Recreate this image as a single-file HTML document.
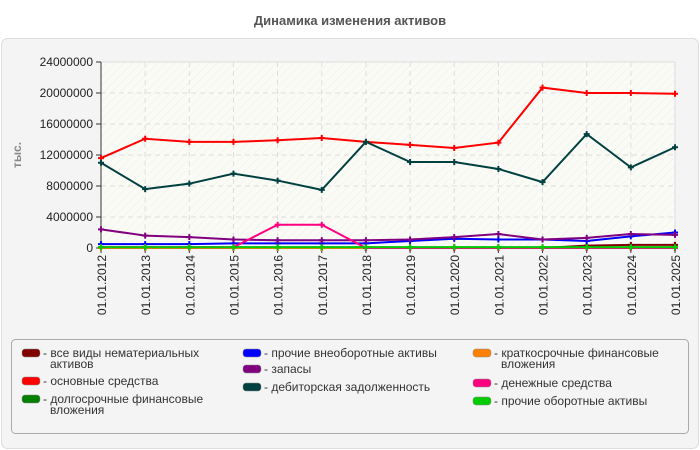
<!DOCTYPE html>
<html><head><meta charset="utf-8"><style>
body{margin:0;background:#fff;font-family:"Liberation Sans",sans-serif}
svg{display:block}
</style></head><body>
<svg id="c" width="700" height="450" xmlns="http://www.w3.org/2000/svg">
<defs><pattern id="h" width="6" height="6" patternUnits="userSpaceOnUse" patternTransform="rotate(45)"><rect width="6" height="6" fill="#fbfbf6"/><line x1="0" y1="0" x2="0" y2="6" stroke="#ececec" stroke-width="1"/></pattern></defs>
<rect x="0" y="0" width="700" height="450" fill="#fff"/>
<rect x="1.5" y="38.5" width="697" height="410" rx="6" fill="#f4f4f4" stroke="#ddd"/>
<text x="350" y="25" text-anchor="middle" font-size="13" font-weight="bold" fill="#555">Динамика изменения активов</text>
<text transform="translate(21,155) rotate(-90)" text-anchor="middle" font-size="12" font-weight="bold" fill="#888">тыс.</text>
<g id="plot"></g>
<rect x="11.5" y="339.5" width="677" height="94" rx="4" fill="#f4f4f4" stroke="#aaa"/>
<g id="leg" font-size="12" fill="#333"></g>
</svg>
<script>
const categories=["01.01.2012","01.01.2013","01.01.2014","01.01.2015","01.01.2016","01.01.2017","01.01.2018","01.01.2019","01.01.2020","01.01.2021","01.01.2022","01.01.2023","01.01.2024","01.01.2025"];
const yTicks=[0,4000000,8000000,12000000,16000000,20000000,24000000];
const sNames=["все виды нематериальных активов","основные средства","долгосрочные финансовые вложения","прочие внеоборотные активы","запасы","дебиторская задолженность","краткосрочные финансовые вложения","денежные средства","прочие оборотные активы"];
const sColors=["#800000","#ff0000","#008000","#0000ff","#800080","#004040","#ff8000","#ff0080","#00cc00"];
const vIntangible=[0,0,0,0,0,0,0,0,0,0,0,300000,400000,400000];
const vFixed=[11600000,14100000,13700000,13700000,13900000,14200000,13700000,13300000,12900000,13600000,20700000,20000000,20000000,19900000];
const vLongFin=[100000,100000,100000,100000,100000,100000,100000,100000,100000,100000,100000,100000,100000,100000];
const vOtherNon=[500000,500000,500000,600000,600000,600000,600000,900000,1200000,1100000,1100000,900000,1500000,2000000];
const vStock=[2400000,1600000,1400000,1100000,1000000,1000000,1000000,1100000,1400000,1800000,1100000,1300000,1800000,1700000];
const vRecv=[11000000,7600000,8300000,9600000,8700000,7500000,13700000,11100000,11100000,10200000,8500000,14700000,10400000,13000000];
const vShortFin=[0,0,0,0,0,0,0,0,0,0,0,0,50000,50000];
const vCash=[100000,100000,100000,100000,3000000,3000000,0,0,0,0,0,0,0,0];
const vOtherCur=[100000,100000,100000,100000,100000,100000,100000,100000,100000,100000,100000,100000,100000,100000];
const series=[vIntangible,vFixed,vLongFin,vOtherNon,vStock,vRecv,vShortFin,vCash,vOtherCur];
const NS="http://www.w3.org/2000/svg";
const L=101,R=675,T=62,B=248;
const X=i=>L+(R-L)*i/(categories.length-1);
const Y=v=>B-(B-T)*v/24000000;
const plot=document.getElementById('plot');
function mk(tag,a,p){const e=document.createElementNS(NS,tag);for(const k in a)e.setAttribute(k,a[k]);(p||plot).appendChild(e);return e;}
const bg=mk('rect',{x:L,y:T,width:R-L,height:B-T,fill:'url(#h)',stroke:'#ddd'});


yTicks.forEach(t=>{
  const g=mk('line',{x1:L,x2:R,y1:Y(t),y2:Y(t),stroke:'#ddd','stroke-dasharray':'5,4'});
  
  
  mk('line',{x1:L-5,x2:L,y1:Y(t),y2:Y(t),stroke:'#333'});
  const tx=mk('text',{x:L-8,y:Y(t)+4,'text-anchor':'end','font-size':12,fill:'#222'});
  tx.textContent=t;
  
  
});
categories.forEach((c,i)=>{
  const g=mk('line',{x1:X(i),x2:X(i),y1:T,y2:B,stroke:'#ddd','stroke-dasharray':'5,4'});
  
  
  mk('line',{x1:X(i),x2:X(i),y1:B,y2:B+5,stroke:'#333'});
  const tx=mk('text',{transform:`translate(${X(i)+5},${B+7}) rotate(-90)`,'text-anchor':'end','font-size':12,fill:'#222'});
  tx.textContent=c;
  
  
});
mk('line',{x1:L,x2:L,y1:T,y2:B,stroke:'#333'});
mk('line',{x1:L,x2:R,y1:B,y2:B,stroke:'#333'});
series.forEach((s,k)=>{
  const p=mk('polyline',{points:s.map((v,i)=>X(i)+','+Y(v)).join(' '),fill:'none',stroke:sColors[k],'stroke-width':2});
  
  
  s.forEach((v,i)=>{
    const m=mk('path',{d:`M${X(i)-3},${Y(v)}h6M${X(i)},${Y(v)-3}v6`,stroke:sColors[k],'stroke-width':2});
    
    
  });
});
const leg=document.getElementById('leg');
const lpos=[[22,353,2],[22,381,1],[22,399,2],[243,353,1],[243,369,1],[243,387,1],[473,353,2],[473,383,1],[473,401,1]];
const lines=[["все виды нематериальных","активов"],["основные средства"],["долгосрочные финансовые","вложения"],["прочие внеоборотные активы"],["запасы"],["дебиторская задолженность"],["краткосрочные финансовые","вложения"],["денежные средства"],["прочие оборотные активы"]];
sNames.forEach((n,k)=>{
  const [x,y]=lpos[k];
  const g=mk('g',{},leg);
  
  
  mk('rect',{x:x,y:y-4,width:18,height:8,rx:3,fill:sColors[k],stroke:'#888','stroke-width':0.5},g);
  const t=mk('text',{x:x+21,y:y+4},g);
  lines[k].forEach((ln,j)=>{const ts=mk('tspan',{x:j?x+28:x+21,dy:j?11:0},t);ts.textContent=(j?'':'- ')+ln;});
});
</script>
</body></html>
